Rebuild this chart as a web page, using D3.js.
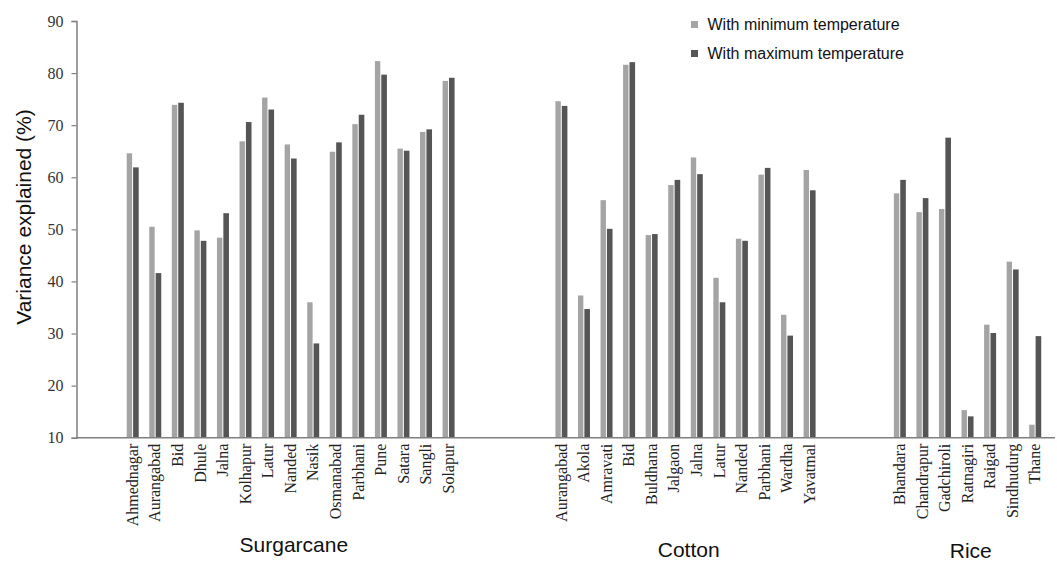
<!DOCTYPE html>
<html>
<head>
<meta charset="utf-8">
<script src="https://cdn.jsdelivr.net/npm/d3@7/dist/d3.min.js"></script>
<style>
  html, body { margin: 0; padding: 0; background: #fff; }
  svg { display: block; }
</style>
</head>
<body>
<svg id="chart" width="1057" height="561"></svg>
<script>
// ---- data ----
const groups = ["Surgarcane", "Cotton", "Rice"];
const sugarcaneDistricts = ["Ahmednagar","Aurangabad","Bid","Dhule","Jalna","Kolhapur","Latur","Nanded","Nasik","Osmanabad","Parbhani","Pune","Satara","Sangli","Solapur"];
const sugarcaneMin = [64.6, 50.5, 73.9, 49.8, 48.4, 66.9, 75.3, 66.3, 36.0, 64.9, 70.2, 82.3, 65.5, 68.7, 78.5];
const sugarcaneMax = [61.9, 41.6, 74.3, 47.8, 53.1, 70.6, 73.0, 63.6, 28.1, 66.7, 72.0, 79.7, 65.1, 69.2, 79.1];
const cottonDistricts = ["Aurangabad","Akola","Amravati","Bid","Buldhana","Jalgaon","Jalna","Latur","Nanded","Parbhani","Wardha","Yavatmal"];
const cottonMin = [74.6, 37.3, 55.6, 81.6, 48.9, 58.5, 63.8, 40.7, 48.2, 60.5, 33.6, 61.4];
const cottonMax = [73.7, 34.7, 50.1, 82.1, 49.1, 59.5, 60.6, 36.0, 47.8, 61.8, 29.6, 57.5];
const riceDistricts = ["Bhandara","Chandrapur","Gadchiroli","Ratnagiri","Raigad","Sindhudurg","Thane"];
const riceMin = [56.9, 53.3, 53.9, 15.3, 31.7, 43.8, 12.5];
const riceMax = [59.5, 56.0, 67.6, 14.1, 30.1, 42.3, 29.5];
const yTicks = [10, 20, 30, 40, 50, 60, 70, 80, 90];
const seriesNames = ["With minimum temperature", "With maximum temperature"];
// empty category slots in the original category axis (leading, between groups)
const gapSlots = [2, 4, 3];

// ---- build slot list ----
const slots = [];
function addGap(n, tag) { for (let i = 0; i < n; i++) slots.push({key: tag + i, blank: true}); }
addGap(gapSlots[0], "g0_");
sugarcaneDistricts.forEach((d, i) => slots.push({key: "S_" + d, name: d, group: 0, min: sugarcaneMin[i], max: sugarcaneMax[i]}));
addGap(gapSlots[1], "g1_");
cottonDistricts.forEach((d, i) => slots.push({key: "C_" + d, name: d, group: 1, min: cottonMin[i], max: cottonMax[i]}));
addGap(gapSlots[2], "g2_");
riceDistricts.forEach((d, i) => slots.push({key: "R_" + d, name: d, group: 2, min: riceMin[i], max: riceMax[i]}));

const svg = d3.select("#chart");
const x0 = 76.5, x1 = 1046.7;
const yTop = 21, yBot = 437.7;

const x = d3.scaleBand().domain(slots.map(s => s.key)).range([x0, x1]).padding(0);
const y = d3.scaleLinear().domain([10, 90]).range([yBot, yTop]);

const cLight = "#a4a4a4", cDark = "#555555", axisCol = "#808080";

const data = slots.filter(s => !s.blank);

// bars
const g = svg.append("g");
data.forEach(d => {
  const c = x(d.key) + x.bandwidth() / 2;
  g.append("rect").attr("x", c - 6.2).attr("width", 5.4)
    .attr("y", y(d.min)).attr("height", y(10) - y(d.min)).attr("fill", cLight);
  g.append("rect").attr("x", c + 0.2).attr("width", 5.6)
    .attr("y", y(d.max)).attr("height", y(10) - y(d.max)).attr("fill", cDark);
});

// y axis
const yAxis = d3.axisLeft(y).tickValues(yTicks).tickSize(5).tickPadding(8).tickFormat(d3.format("d"));
const ya = svg.append("g").attr("transform", `translate(${x0},0)`).call(yAxis);
ya.select(".domain").attr("stroke", axisCol).attr("stroke-width", 1.5);
ya.selectAll(".tick line").attr("stroke", axisCol).attr("stroke-width", 1.2);
ya.selectAll(".tick text").attr("font-family", "Liberation Serif, serif").attr("font-size", 16).attr("fill", "#333");

// x axis line
svg.append("line").attr("x1", x0).attr("x2", 1055).attr("y1", yBot).attr("y2", yBot)
  .attr("stroke", axisCol).attr("stroke-width", 1.5);

// category labels
svg.append("g").selectAll("text").data(data).join("text")
  .attr("transform", d => `translate(${x(d.key) + x.bandwidth() / 2 + 5},${yBot + 6}) rotate(-90)`)
  .attr("text-anchor", "end")
  .attr("font-family", "Liberation Serif, serif")
  .attr("font-size", 16)
  .attr("fill", "#222")
  .text(d => d.name);

// group labels
const groupBaselines = [552, 557, 558];
groups.forEach((gname, gi) => {
  const members = data.filter(d => d.group === gi);
  const cx = (x(members[0].key) + x(members[members.length - 1].key) + x.bandwidth()) / 2;
  svg.append("text").attr("x", cx + 3).attr("y", groupBaselines[gi])
    .attr("text-anchor", "middle")
    .attr("font-family", "Liberation Sans, Arial, sans-serif")
    .attr("font-size", 21).attr("fill", "#111")
    .text(gname);
});

// y title
svg.append("text").attr("transform", `translate(31,217) rotate(-90)`)
  .attr("text-anchor", "middle")
  .attr("font-family", "Liberation Sans, Arial, sans-serif")
  .attr("font-size", 21).attr("fill", "#111")
  .text("Variance explained (%)");

// legend
const legY = [24.5, 53.5];
const legCols = [cLight, cDark];
seriesNames.forEach((s, i) => {
  svg.append("rect").attr("x", 691).attr("y", legY[i] - 3.5).attr("width", 7).attr("height", 7).attr("fill", legCols[i]);
  svg.append("text").attr("x", 707.5).attr("y", legY[i] + 5.8)
    .attr("font-family", "Liberation Sans, Arial, sans-serif")
    .attr("font-size", 16).attr("fill", "#111").text(s);
});
</script>
</body>
</html>
